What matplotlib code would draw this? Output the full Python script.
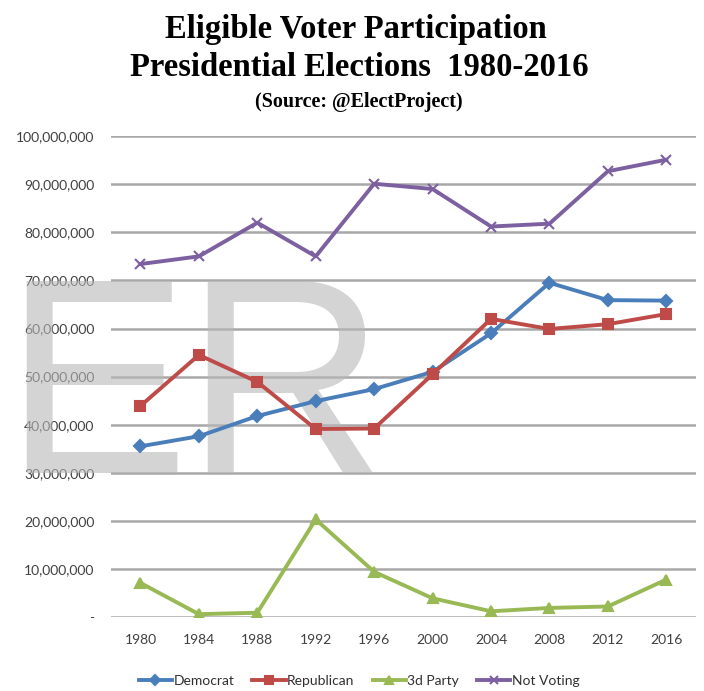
import numpy as np
from matplotlib import pyplot as plt
from matplotlib.ticker import FuncFormatter

years = ['1980', '1984', '1988', '1992', '1996', '2000', '2004', '2008', '2012', '2016']
democrat = [35.5, 37.6, 41.8, 44.9, 47.4, 51.0, 59.0, 69.5, 65.9, 65.8]
republican = [43.9, 54.5, 48.9, 39.1, 39.2, 50.5, 62.0, 59.9, 60.9, 63.0]
third_party = [7.1, 0.6, 0.9, 20.3, 9.4, 3.9, 1.2, 1.9, 2.2, 7.8]
not_voting = [73.4, 75.0, 82.0, 75.0, 90.1, 89.0, 81.2, 81.8, 92.7, 95.1]

series = [
  ('Democrat', democrat, '#4A7EBB', 'D', 6),
  ('Republican', republican, '#BE4B48', 's', 7),
  ('3d Party', third_party, '#98B954', '^', 7),
  ('Not Voting', not_voting, '#7D60A0', 'x', 7),
]

fig = plt.figure(figsize=(7.04, 6.91), dpi=100)
ax = fig.add_axes([0.158, 0.107, 0.83, 0.696])

x = np.arange(len(years))
for name, vals, col, mk, ms in series:
  ax.plot(x, np.array(vals) * 1e6, color=col, lw=2.8, marker=mk, ms=ms,
          mew=1.5, label=name, zorder=3)

ax.set_xlim(-0.5, len(years) - 0.5)
ax.set_ylim(0, 100e6)
ax.set_yticks(np.arange(0, 100e6 + 1, 10e6))
ax.set_xticks(x)
ax.set_xticklabels(years)
ax.yaxis.set_major_formatter(FuncFormatter(lambda v, p: '-' if v == 0 else f'{int(v):,}'))
ax.grid(axis='y', color='#A8A8A8', lw=1.8)
ax.set_axisbelow(True)
for s in ax.spines.values():
  s.set_visible(False)
ax.tick_params(length=0, labelsize=10, colors='#404040', pad=12)
ax.tick_params(axis='y', pad=12)
for lab in ax.get_xticklabels() + ax.get_yticklabels():
  lab.set_family('Lato')

# watermark letters
for ch, xp in [('E', 0.005), ('R', 0.262)]:
  ax.text(xp, 0.316, ch, transform=fig.transFigure, fontsize=200, color='#B8B8B8',
          alpha=0.6, family='Liberation Sans', zorder=1, clip_on=False)

fig.text(0.505, 0.958, 'Eligible Voter Participation', ha='center', va='center',
         fontsize=23.5, fontweight='bold', family='Liberation Serif')
fig.text(0.51, 0.903, 'Presidential Elections  1980-2016', ha='center', va='center',
         fontsize=23.5, fontweight='bold', family='Liberation Serif')
fig.text(0.51, 0.853, '(Source: @ElectProject)', ha='center', va='center',
         fontsize=14.5, fontweight='bold', family='Liberation Serif')

leg = fig.legend(loc='center', bbox_to_anchor=(0.51, 0.015), ncol=4, frameon=False,
                 handlelength=2.4, handletextpad=0.1, columnspacing=1.3,
                 markerscale=0.85, prop={'family': 'Lato', 'size': 10})
for t in leg.get_texts():
  t.set_color('#303030')

fig.savefig('out.png', dpi=100)
